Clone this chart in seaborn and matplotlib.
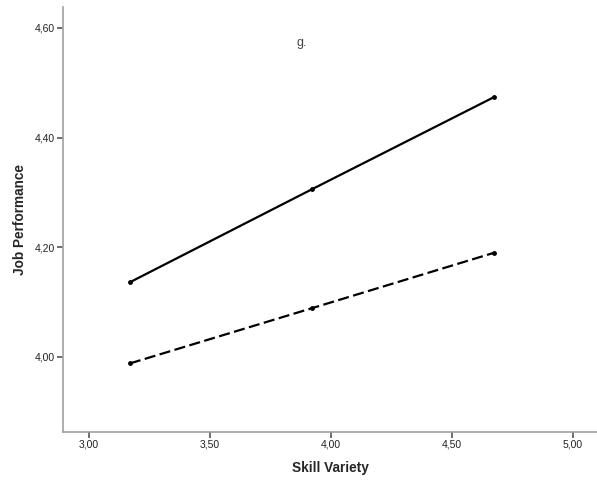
import matplotlib
matplotlib.use("Agg")
import matplotlib.pyplot as plt
import seaborn as sns
import pandas as pd

skill_variety = [3.169, 3.923, 4.675]
high_group = [4.136, 4.306, 4.474]
low_group = [3.988, 4.089, 4.190]
groups = ["High", "Low"]
x_ticks = [3.00, 3.50, 4.00, 4.50, 5.00]
y_ticks = [4.00, 4.20, 4.40, 4.60]

df = pd.DataFrame({
    "Skill Variety": skill_variety * 2,
    "Job Performance": high_group + low_group,
    "group": [groups[0]] * 3 + [groups[1]] * 3,
})

sns.set_style("white")
plt.rcParams['font.family'] = ['Liberation Sans', 'DejaVu Sans']

fig = plt.figure(figsize=(5.97, 4.82), dpi=100)
ax = fig.add_axes([63/597, 1 - 432/482, 534/597, 425/482])

sns.lineplot(data=df, x="Skill Variety", y="Job Performance", style="group",
             dashes={"High": "", "Low": (5, 2)}, color="black", linewidth=1.6,
             marker="o", markersize=3.5, markeredgewidth=0, legend=False, ax=ax)

ax.set_xlim(2.893, 5.099)
ax.set_ylim(3.863, 4.638)
ax.set_xticks(x_ticks)
ax.set_yticks(y_ticks)
ax.set_xticklabels([f"{v:.2f}".replace(".", ",") for v in x_ticks])
ax.set_yticklabels([f"{v:.2f}".replace(".", ",") for v in y_ticks])

for side in ["top", "right"]:
    ax.spines[side].set_visible(False)
for side in ["left", "bottom"]:
    ax.spines[side].set_color("#a0a0a0")
    ax.spines[side].set_linewidth(1.2)

ax.tick_params(axis="both", which="major", direction="out", length=4, width=1.2,
               color="#555555", labelsize=7.5, labelcolor="#222222", pad=1.5,
               left=True, bottom=True)

ax.set_xlabel("Skill Variety", fontsize=9.8, fontweight="bold", labelpad=8)
ax.set_ylabel("Job Performance", fontsize=9.8, fontweight="bold", labelpad=6)

fig.text(302/597, 1 - 43/482, "g.", fontsize=9, color="#444444", ha="center", va="center")

fig.savefig("out.png", dpi=100, facecolor="white")
